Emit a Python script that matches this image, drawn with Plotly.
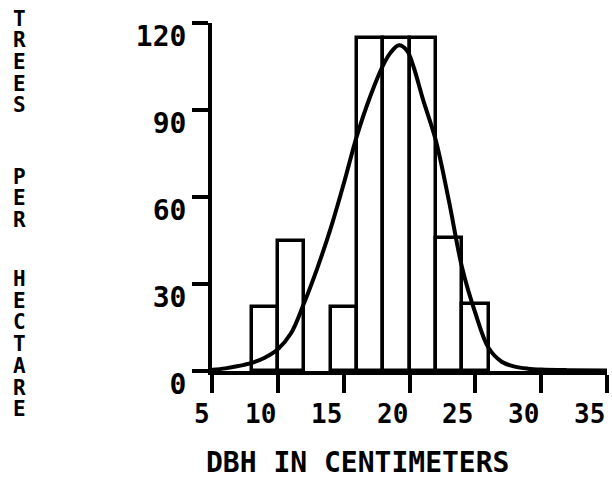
import plotly.graph_objects as go

# ---- data ----
bin_centers = [9, 11, 15, 17, 19, 21, 23, 25]
trees_per_ha = [22, 45, 22, 115, 115, 115, 46, 23]
bin_width = 2

curve_dbh = [5, 6, 7, 8, 9, 10, 11, 12, 13, 14, 15, 16, 17, 18, 18.6, 19.2,
             19.8, 20.3, 21, 22, 23, 24, 25, 26, 27, 28, 29, 30, 32, 35]
curve_trees = [0.4, 0.9, 1.7, 2.8, 4.6, 7.5, 13, 23.5, 35.5, 49, 64.5, 81,
               94.5, 105.5, 110, 112.3, 110.5, 105, 94, 79.5, 58.5, 35.5,
               20, 8, 3.2, 1.5, 0.8, 0.5, 0.3, 0.2]

x_ticks = [5, 10, 15, 20, 25, 30, 35]
y_ticks = [0, 30, 60, 90, 120]
x_title = "DBH IN CENTIMETERS"
y_title = "TREES PER HECTARE"

FONT = "DejaVu Sans Mono"
fig = go.Figure()

fig.add_trace(go.Bar(
    x=bin_centers, y=trees_per_ha, width=bin_width,
    marker=dict(color="white", line=dict(color="black", width=3.5)),
    showlegend=False,
))
fig.add_trace(go.Scatter(
    x=curve_dbh, y=curve_trees, mode="lines",
    line=dict(color="black", width=4, shape="spline", smoothing=1),
    showlegend=False,
))

annotations = []
# x tick labels: right-aligned at each tick
for v in x_ticks:
    annotations.append(dict(
        x=v, y=0, xref="x", yref="paper", text=str(v), showarrow=False,
        xanchor="right", yanchor="middle", xshift=0, yshift=-43,
        font=dict(family=FONT, size=26, color="black", weight="bold"),
    ))
# x title
annotations.append(dict(
    x=0, y=0, xref="paper", yref="paper", text=x_title, showarrow=False,
    xanchor="left", yanchor="bottom", xshift=-8, yshift=-110,
    font=dict(family=FONT, size=28, color="black", weight="bold"),
))
# y title: stacked letters
word_starts = [18.5, 176.5, 279]
pitch = 21.7
for wi, word in enumerate(y_title.split(" ")):
    for li, ch in enumerate(word):
        cy = word_starts[wi] + li * pitch
        annotations.append(dict(
            x=0, y=1, xref="paper", yref="paper", text=ch, showarrow=False,
            xanchor="center", yanchor="middle", xshift=19 - 212,
            yshift=-(cy - 23),
            font=dict(family=FONT, size=21, color="black", weight="bold"),
        ))

fig.update_layout(
    width=612, height=482,
    margin=dict(l=212, r=5, t=23, b=111, pad=0),
    paper_bgcolor="white", plot_bgcolor="white",
    bargap=0,
    annotations=annotations,
    xaxis=dict(
        range=[5, 35], tickvals=x_ticks, showticklabels=False,
        ticks="outside", ticklen=18, tickwidth=4, tickcolor="black",
        showline=True, linewidth=4, linecolor="black",
        showgrid=False, zeroline=False,
    ),
    yaxis=dict(
        range=[0, 120], tickvals=y_ticks, ticktext=[str(v) for v in y_ticks],
        ticks="outside", ticklen=16, tickwidth=4, tickcolor="black",
        showline=True, linewidth=4, linecolor="black",
        showgrid=False, zeroline=False,
        tickfont=dict(family=FONT, size=28, color="black", weight="bold"),
        ticklabelshift=13, ticklabelstandoff=0,
    ),
)

fig.write_html("out.html")
